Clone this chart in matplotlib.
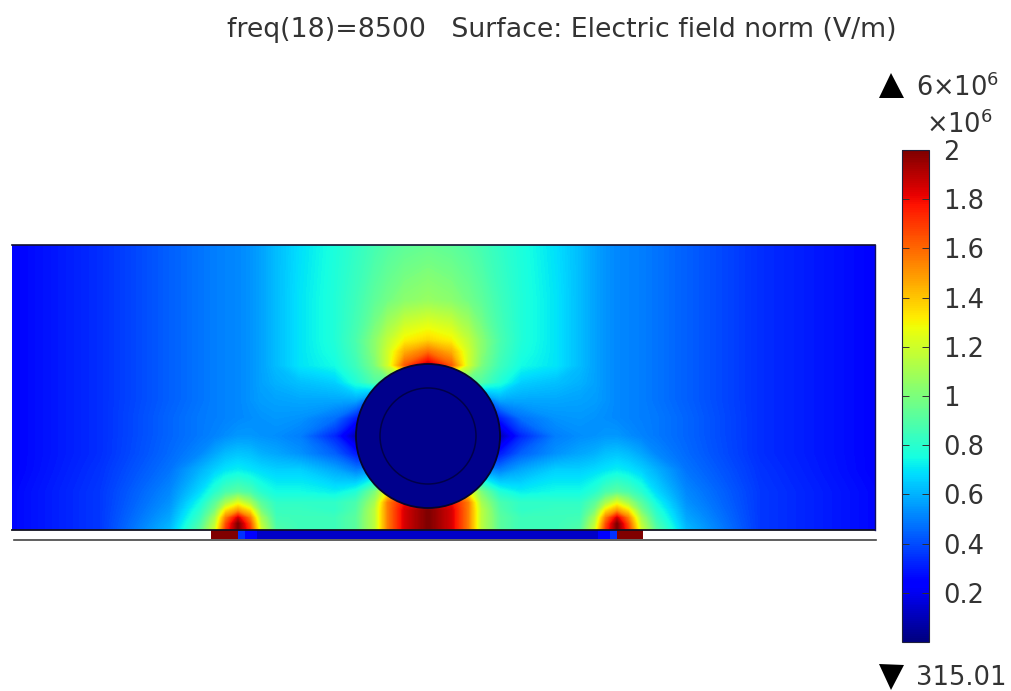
import matplotlib
matplotlib.use("Agg")
import matplotlib.pyplot as plt
from matplotlib.patches import Circle
from matplotlib.cm import ScalarMappable
from matplotlib.colors import Normalize
import numpy as np

W, H = 1012, 691

# field values (units of 1e6 V/m), left half up to the centre column
x_left = [12, 100, 170, 200, 215, 226, 238, 250, 261, 276, 300, 335, 356, 375, 388, 405, 428]
x_right = [451, 468, 481, 500, 521, 556, 580, 595, 606, 617, 628, 641, 656, 686, 760, 875]
y_rows = [245, 300, 340, 352, 365, 382, 400, 418, 436, 454, 470, 492, 503, 511, 518, 524, 530]

field_left = np.array([
    [.25, .34, .44, .48, .50, .51, .52, .54, .57, .62, .69, .77, .82, .87, .90, .93, .95],
    [.25, .34, .44, .48, .50, .51, .52, .54, .57, .62, .70, .78, .85, .93, .98, 1.03, 1.06],
    [.25, .34, .44, .48, .50, .51, .52, .54, .57, .62, .70, .78, .88, 1.03, 1.16, 1.3, 1.36],
    [.25, .34, .44, .48, .50, .51, .52, .54, .57, .62, .70, .77, .87, 1.03, 1.2, 1.45, 1.58],
    [.25, .34, .44, .48, .50, .51, .52, .54, .57, .62, .70, .75, .85, 1.0, 1.2, 1.62, 1.88],
    [.25, .34, .44, .48, .50, .51, .52, .54, .57, .60, .63, .66, .78, .90, .90, .90, .90],
    [.25, .34, .44, .48, .50, .51, .52, .54, .56, .57, .58, .58, .58, .40, .40, .40, .40],
    [.25, .34, .45, .49, .50, .51, .52, .53, .54, .55, .54, .47, .30, .10, .10, .10, .10],
    [.25, .34, .45, .49, .51, .53, .55, .55, .54, .53, .50, .32, .08, .05, .05, .05, .05],
    [.25, .34, .46, .52, .58, .62, .64, .63, .60, .58, .54, .44, .30, .15, .15, .15, .15],
    [.25, .35, .48, .60, .66, .70, .72, .70, .68, .66, .66, .58, .50, .55, .55, .55, .55],
    [.26, .36, .52, .68, .80, .88, .92, .88, .80, .75, .75, .72, .78, 1.0, 1.3, 1.6, 1.7],
    [.26, .36, .54, .75, .92, 1.1, 1.25, 1.1, .92, .82, .82, .82, .88, 1.1, 1.55, 1.8, 1.9],
    [.26, .36, .56, .80, 1.0, 1.35, 1.5, 1.35, 1.0, .84, .84, .82, .90, 1.15, 1.55, 1.85, 2.0],
    [.26, .36, .58, .84, 1.1, 1.55, 1.85, 1.55, 1.1, .86, .85, .85, .92, 1.15, 1.55, 1.85, 2.0],
    [.26, .36, .60, .88, 1.15, 1.65, 2.0, 1.65, 1.15, .88, .85, .85, .92, 1.15, 1.55, 1.85, 2.0],
    [.26, .36, .62, .92, 1.2, 1.7, 2.0, 1.7, 1.2, .9, .85, .85, .92, 1.15, 1.55, 1.85, 2.0],
])
field_right = field_left[:, -2::-1]

# conductor strip under the air region
strip_x = [211, 238, 245, 257, 598, 610, 617, 643]
strip_y = [530, 539]
strip_values = [[2.0, .35, .22, .13, .22, .35, 2.0]]

bar_ticks = [0.2, 0.4, 0.6, 0.8, 1, 1.2, 1.4, 1.6, 1.8, 2]
bar_labels = ["0.2", "0.4", "0.6", "0.8", "1", "1.2", "1.4", "1.6", "1.8", "2"]

title = "freq(18)=8500   Surface: Electric field norm (V/m)"
max_label = r"6$\times$10$^{6}$"
min_label = "315.01"
exp_label = r"$\times$10$^{6}$"

plt.rcParams["mathtext.default"] = "regular"
text_color = "#333333"
norm = Normalize(0, 2)

fig = plt.figure(figsize=(W / 100, H / 100), dpi=100)
ax = fig.add_axes([0, 0, 1, 1])
ax.set_xlim(0, W)
ax.set_ylim(H, 0)
ax.axis("off")

x_grid = x_left + x_right
field = np.hstack([field_left, field_right])
ax.contourf(x_grid, y_rows, field, levels=np.linspace(0, 2, 256), cmap="jet", norm=norm,
            extend="both", antialiased=False)
ax.pcolormesh(strip_x, strip_y, strip_values, cmap="jet", norm=norm, shading="flat")

# cable cross section
ax.add_patch(Circle((428, 436), 72, facecolor="#00008c", edgecolor="#05052e", lw=1.3, zorder=3))
ax.add_patch(Circle((428, 436), 48, facecolor="#00008c", edgecolor="#00004a", lw=1.1, zorder=4))

ax.plot([12, 875], [245, 245], color="#101030", lw=1.2)
ax.plot([12, 875], [530, 530], color="#101020", lw=1.3)
ax.plot([875, 875], [245, 530], color="#101060", lw=1.0)
ax.plot([14, 876], [539.5, 539.5], color="#444444", lw=1.2)

ax.text(561.5, 37, title, fontsize=19.3, color=text_color, ha="center", va="baseline")

ax.plot([891.5], [85], marker="^", ms=18, color="black", mew=0, clip_on=False)
ax.plot([891.5], [677], marker="v", ms=18, color="black", mew=0, clip_on=False)
ax.text(916, 95.5, max_label, fontsize=18.5, color=text_color, ha="left", va="baseline")
ax.text(916, 685, min_label, fontsize=18.5, color=text_color, ha="left", va="baseline")
ax.text(926, 132.5, exp_label, fontsize=18.5, color=text_color, ha="left", va="baseline")

cax = fig.add_axes([902 / W, 1 - 642 / H, 27 / W, 492 / H])
cb = fig.colorbar(ScalarMappable(norm=norm, cmap="jet"), cax=cax)
cb.set_ticks(bar_ticks, labels=bar_labels)
cb.outline.set_edgecolor("#20203a")
cb.outline.set_linewidth(0.8)
cax.tick_params(axis="y", direction="in", length=5, width=0.7, left=True, right=True,
                color="#303030", labelsize=18.5, labelcolor=text_color, pad=10)
cb.minorticks_off()

fig.savefig("out.png", dpi=100, facecolor="white")
